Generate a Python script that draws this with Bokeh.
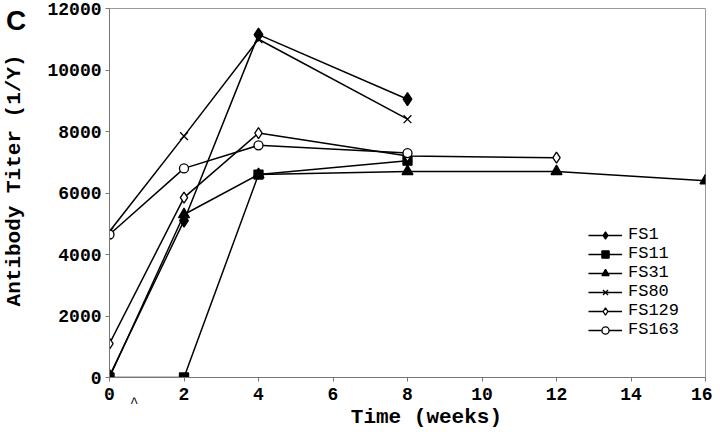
from bokeh.plotting import figure
from bokeh.models import Legend, LegendItem, FixedTicker, Range1d, Div
from bokeh.layouts import column
from bokeh.embed import file_html
from bokeh.resources import INLINE

# Data
fs1_x = [0, 2, 4, 8]
fs1_y = [50, 5100, 11150, 9050]
fs11_x = [0, 2, 4, 8]
fs11_y = [0, 0, 6600, 7050]
fs31_x = [0, 2, 4, 8, 12, 16]
fs31_y = [0, 5300, 6600, 6700, 6700, 6400]
fs80_x = [0, 2, 4, 8]
fs80_y = [4750, 7850, 11000, 8400]
fs129_x = [0, 2, 4, 8, 12]
fs129_y = [1100, 5850, 7950, 7200, 7150]
fs163_x = [0, 2, 4, 8]
fs163_y = [4650, 6800, 7550, 7300]

x_ticks = [0, 2, 4, 6, 8, 10, 12, 14, 16]
y_ticks = [0, 2000, 4000, 6000, 8000, 10000, 12000]

p = figure(width=712, height=431, output_backend="svg", toolbar_location=None,
           x_range=Range1d(0, 16), y_range=Range1d(0, 12000),
           min_border_left=107, min_border_right=7, min_border_top=8, min_border_bottom=51)
p.grid.visible = False
p.background_fill_color = "white"
p.outline_line_color = "#999999"
p.outline_line_width = 1

for ax in (p.xaxis[0], p.yaxis[0]):
    ax.major_label_text_font = "Liberation Mono"
    ax.major_label_text_font_style = "bold"
    ax.major_label_text_font_size = "18px"
    ax.major_label_text_color = "black"
    ax.axis_label_text_font = "Liberation Mono"
    ax.axis_label_text_font_style = "bold"
    ax.axis_label_text_font_size = "21px"
    ax.axis_label_text_color = "black"
    ax.axis_line_color = "#777777"
    ax.major_tick_line_color = "#777777"
    ax.major_tick_in = 0
    ax.major_tick_out = 4
    ax.minor_tick_line_color = None

p.xaxis[0].ticker = FixedTicker(ticks=x_ticks)
p.yaxis[0].ticker = FixedTicker(ticks=y_ticks)
p.xaxis[0].axis_label = "\u00a0\u00a0\u00a0Time (weeks)"
p.yaxis[0].axis_label = "\u00a0\u00a0Antibody Titer (1/Y)"
p.xaxis[0].major_label_standoff = 6
p.xaxis[0].axis_label_standoff = 3
p.yaxis[0].major_label_standoff = 4
p.yaxis[0].axis_label_standoff = 18

series = [
    ("FS1", fs1_x, fs1_y, "diamond", "black", 13),
    ("FS11", fs11_x, fs11_y, "square", "black", 9),
    ("FS31", fs31_x, fs31_y, "triangle", "black", 11),
    ("FS80", fs80_x, fs80_y, "x", "black", 11),
    ("FS129", fs129_x, fs129_y, "diamond", "white", 11),
    ("FS163", fs163_x, fs163_y, "circle", "white", 9),
]

items = []
for name, xs, ys, mk, fill, sz in series:
    l = p.line(xs, ys, line_color="black", line_width=1.5)
    s = p.scatter(xs, ys, marker=mk, size=sz, fill_color=fill, line_color="black", line_width=1.3)
    items.append(LegendItem(label=name, renderers=[l, s]))

legend = Legend(items=items, location=(477, 36))
legend.label_text_font = "Liberation Mono"
legend.label_text_font_size = "17px"
legend.label_text_color = "black"
legend.border_line_alpha = 0
legend.background_fill_alpha = 0
legend.glyph_width = 34
legend.glyph_height = 18
legend.label_height = 19
legend.spacing = 0
legend.padding = 2
legend.margin = 0
legend.label_standoff = 6
p.add_layout(legend, "center")

overlay = Div(
    text=('<span style="position:absolute;left:1px;top:2px;font:bold 28px/1 \'Liberation Sans\';color:black;">C</span>'
          '<span style="position:absolute;left:125px;top:391px;font:14px/1 \'Liberation Mono\';color:black;">^</span>'),
    width=712, height=0,
    styles={"position": "absolute", "left": "0px", "top": "0px", "pointer-events": "none", "overflow": "visible"},
)

layout = column(p, overlay)
open("out.html", "w").write(file_html(layout, INLINE))
